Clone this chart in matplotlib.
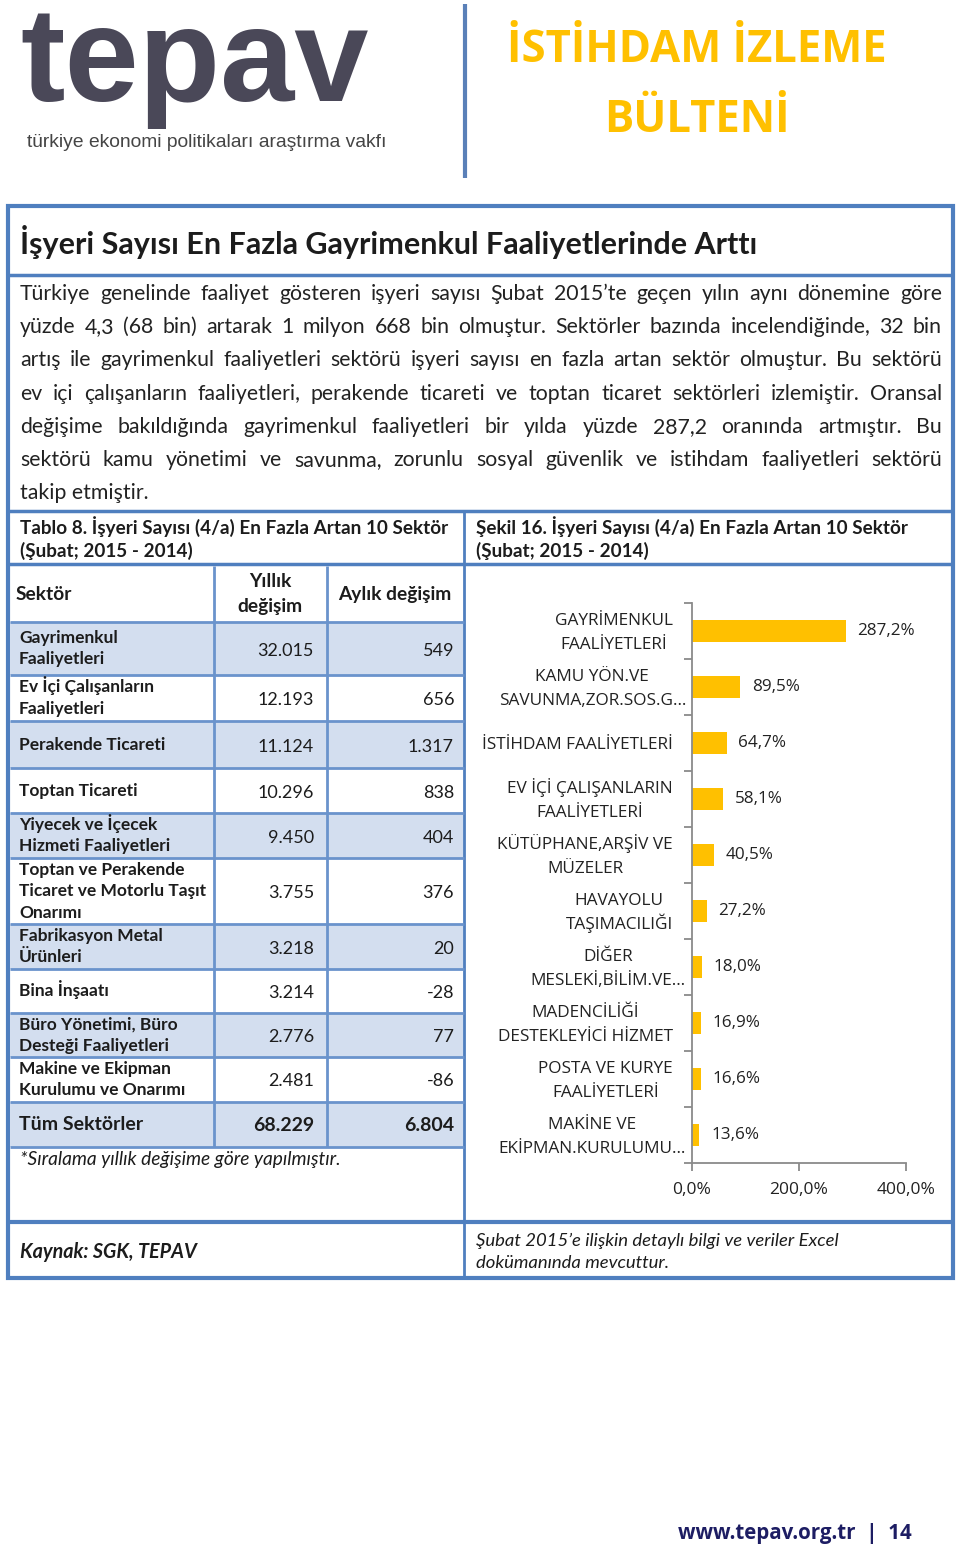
import matplotlib
matplotlib.use("Agg")
import matplotlib.pyplot as plt
from matplotlib.patches import Rectangle

# chart data (Şekil 16)
cats = ["GAYRİMENKUL\nFAALİYETLERİ", "KAMU YÖN.VE\nSAVUNMA,ZOR.SOS.G…", "İSTİHDAM FAALİYETLERİ",
        "EV İÇİ ÇALIŞANLARIN\nFAALİYETLERİ", "KÜTÜPHANE,ARŞİV VE\nMÜZELER", "HAVAYOLU\nTAŞIMACILIĞI",
        "DİĞER\nMESLEKİ,BİLİM.VE…", "MADENCİLİĞİ\nDESTEKLEYİCİ HİZMET", "POSTA VE KURYE\nFAALİYETLERİ",
        "MAKİNE VE\nEKİPMAN.KURULUMU…"]
pct = [287.2, 89.5, 64.7, 58.1, 40.5, 27.2, 18.0, 16.9, 16.6, 13.6]
xticks = [0, 200, 400]

# table data (Tablo 8)
sectors = ["Gayrimenkul\nFaaliyetleri", "Ev İçi Çalışanların\nFaaliyetleri", "Perakende Ticareti",
           "Toptan Ticareti", "Yiyecek ve İçecek\nHizmeti Faaliyetleri",
           "Toptan ve Perakende\nTicaret ve Motorlu Taşıt\nOnarımı", "Fabrikasyon Metal\nÜrünleri",
           "Bina İnşaatı", "Büro Yönetimi, Büro\nDesteği Faaliyetleri", "Makine ve Ekipman\nKurulumu ve Onarımı"]
annual = [32015, 12193, 11124, 10296, 9450, 3755, 3218, 3214, 2776, 2481]
monthly = [549, 656, 1317, 838, 404, 376, 20, -28, 77, -86]
total_annual = 68229
total_monthly = 6804

para = [
    "Türkiye genelinde faaliyet gösteren işyeri sayısı Şubat 2015’te geçen yılın aynı dönemine göre",
    "yüzde 4,3 (68 bin) artarak 1 milyon 668 bin olmuştur. Sektörler bazında incelendiğinde, 32 bin",
    "artış ile gayrimenkul faaliyetleri sektörü işyeri sayısı en fazla artan sektör olmuştur. Bu sektörü",
    "ev içi çalışanların faaliyetleri, perakende ticareti ve toptan ticaret sektörleri izlemiştir. Oransal",
    "değişime bakıldığında gayrimenkul faaliyetleri bir yılda yüzde 287,2 oranında artmıştır. Bu",
    "sektörü kamu yönetimi ve savunma, zorunlu sosyal güvenlik ve istihdam faaliyetleri sektörü",
    "takip etmiştir.",
]


def tr(v):
    return f"{v:,}".replace(",", ".")


BLUE = "#4f7fbf"
LINE = "#6a93cc"
SHADE = "#d3deef"
GOLD = "#ffc000"
INK = "#1c1c1c"

plt.rcParams["font.family"] = ["Lato", "DejaVu Sans"]
fig = plt.figure(figsize=(9.6, 15.49), dpi=100)
pg = fig.add_axes([0, 0, 1, 1])
pg.set_xlim(0, 960)
pg.set_ylim(1549, 0)
pg.axis("off")
r = fig.canvas.get_renderer()


def fit(x, y, s, width, **kw):
    t = pg.text(x, y, s, **kw)
    w = t.get_window_extent(r).width
    t.set_fontsize(t.get_fontsize() * width / w)
    return t


def justify(line, y, x0, x1, **kw):
    words = line.split()
    ts = [pg.text(0, y, w, va="center", **kw) for w in words]
    ws = [t.get_window_extent(r).width for t in ts]
    gap = (x1 - x0 - sum(ws)) / (len(words) - 1)
    x = x0
    for t, w in zip(ts, ws):
        t.set_x(x)
        x += w + gap


def hline(y, x0=8, x1=953, lw=2.5, c=BLUE):
    pg.plot([x0, x1], [y, y], color=c, lw=lw, solid_capstyle="butt")


def vline(x, y0, y1, lw=2.5, c=BLUE):
    pg.plot([x, x], [y0, y1], color=c, lw=lw, solid_capstyle="butt")


# header
pg.text(20, 101, "tepav", fontsize=96, fontweight="bold", color="#4a4858",
        family=["Liberation Sans"], va="baseline")
fit(27, 142, "türkiye ekonomi politikaları araştırma vakfı", 360, fontsize=11,
    color="#454545", family=["Liberation Sans"], va="center")
vline(465, 4, 178, lw=3, c="#5a80b8")
ban = fit(507, 62, "İSTİHDAM İZLEME", 380, fontsize=34, fontweight="bold", color=GOLD,
          family=["Open Sans"], va="baseline")
pg.text(697, 132, "BÜLTENİ", fontsize=ban.get_fontsize(), fontweight="bold",
        color=GOLD, family=["Open Sans"], va="baseline", ha="center")

# frame
pg.add_patch(Rectangle((8, 206), 945, 1072, fill=False, ec=BLUE, lw=3))
hline(275)
hline(511)
hline(564)
hline(1222, lw=3)
vline(464, 511, 1278, lw=2)

fit(20, 242, "İşyeri Sayısı En Fazla Gayrimenkul Faaliyetlerinde Arttı", 736, fontsize=19,
    fontweight="bold", color=INK, va="center")

for i, line in enumerate(para):
    y = 294 + i * 33.2
    if i < len(para) - 1:
        justify(line, y, 20, 942, fontsize=15.3, color="#222222")
    else:
        pg.text(20, y, line, fontsize=15.3, color="#222222", va="center")

for x0, title in [(20, "Tablo 8."), (476, "Şekil 16.")]:
    pg.text(x0, 527, title + " İşyeri Sayısı (4/a) En Fazla Artan 10 Sektör", fontsize=13.6,
            fontweight="bold", color=INK, va="center")
    pg.text(x0, 551, "(Şubat; 2015 - 2014)", fontsize=13.6, fontweight="bold", color=INK, va="center")

# table
edges = [566, 622, 675, 721, 768, 813, 858, 924, 969, 1013, 1057, 1102, 1147]
for i in range(len(edges) - 1):
    if i % 2 == 1:
        pg.add_patch(Rectangle((10, edges[i]), 454, edges[i + 1] - edges[i], fc=SHADE, ec="none"))
for y in edges[1:]:
    hline(y, 10, 464, lw=2, c=LINE)
for x in [214, 327]:
    vline(x, 566, 1147, lw=2, c=LINE)

hc = (edges[0] + edges[1]) / 2
pg.text(16, hc, "Sektör", fontsize=13.8, fontweight="bold", color=INK, va="center")
pg.text(270, hc, "Yıllık\ndeğişim", fontsize=13.8, fontweight="bold", color=INK, va="center",
        ha="center", multialignment="center", linespacing=1.55)
pg.text(395, hc, "Aylık değişim", fontsize=13.8, fontweight="bold", color=INK, va="center", ha="center")

for i, (s, a, m) in enumerate(zip(sectors, annual, monthly)):
    yc = (edges[i + 1] + edges[i + 2]) / 2
    lines = s.split("\n")
    for k, ln in enumerate(lines):
        pg.text(19, yc + (k - (len(lines) - 1) / 2) * 21.5 + 5, ln, fontsize=12.5, fontweight="bold",
                color=INK, va="baseline")
    pg.text(314, yc + 2, tr(a), fontsize=13, color=INK, va="center", ha="right")
    pg.text(454, yc + 2, tr(m), fontsize=13, color=INK, va="center", ha="right")

yc = (edges[-2] + edges[-1]) / 2
pg.text(19, yc, "Tüm Sektörler", fontsize=14, fontweight="bold", color=INK, va="center")
pg.text(314, yc + 1, tr(total_annual), fontsize=14, fontweight="bold", color=INK, va="center", ha="right")
pg.text(454, yc + 1, tr(total_monthly), fontsize=14, fontweight="bold", color=INK, va="center", ha="right")
pg.text(20, 1160, "*Sıralama yıllık değişime göre yapılmıştır.", fontsize=13.8, style="italic",
        color=INK, va="center")

# bottom notes
pg.text(20, 1252, "Kaynak: SGK, TEPAV", fontsize=14.2, style="italic", fontweight="bold",
        color=INK, va="center")
pg.text(476, 1252, "Şubat 2015’e ilişkin detaylı bilgi ve veriler Excel\ndokümanında mevcuttur.",
        fontsize=13.3, style="italic", color=INK, va="center", linespacing=1.5)

pg.text(678, 1533, "www.tepav.org.tr  |  14", fontsize=14.8, fontweight="bold",
        color="#1d1d63", family=["Open Sans"], va="center")

# bar chart
ax = fig.add_axes([692 / 960, 1 - 1163 / 1549, 214 / 960, 560 / 1549])
ypos = list(range(len(cats)))
ax.barh(ypos, pct, height=0.4, color=GOLD)
ax.set_xlim(xticks[0], xticks[-1])
ax.set_ylim(len(cats) - 0.5, -0.5)
for sp in ["top", "right"]:
    ax.spines[sp].set_visible(False)
for sp in ["left", "bottom"]:
    ax.spines[sp].set_color("#8a8a8a")
    ax.spines[sp].set_linewidth(1.3)
ax.set_yticks(ypos)
ax.set_yticklabels([])
ax.set_yticks([k - 0.5 for k in range(len(cats) + 1)], minor=True)
ax.tick_params(axis="y", which="major", length=0)
ax.tick_params(axis="y", which="minor", length=6, color="#8a8a8a", width=1.3)

# category labels, one text per line so accented capitals don't change the spacing;
# Excel leaves the truncated (…) labels closer to the axis
for yv, c in zip(ypos, cats):
    off = 6 if c.endswith("…") else 19
    lines = c.split("\n")
    ts = []
    for k, ln in enumerate(lines):
        dy = ((len(lines) - 1) / 2 - k) * 24 - 6
        ts.append(ax.annotate(ln, xy=(0, yv), xycoords=("axes fraction", "data"), xytext=(-off, dy),
                              textcoords="offset pixels", ha="center", va="baseline",
                              family=["Open Sans"], fontsize=12.4, color="#222222"))
    wmax = max(t.get_window_extent(r).width for t in ts)
    for t in ts:
        t.xyann = (-off - wmax / 2, t.xyann[1])

ax.set_xticks(xticks)
ax.set_xticklabels([f"{v:.1f}%".replace(".", ",") for v in xticks], family=["Open Sans"],
                   fontsize=12.5, color="#222222")
ax.tick_params(axis="x", length=6, color="#8a8a8a", width=1.3, pad=8)
for yv, v in zip(ypos, pct):
    ax.text(v + 22, yv, f"{v:.1f}%".replace(".", ","), va="center", ha="left", family=["Open Sans"],
            fontsize=12.3, color="#222222")

fig.savefig("out.png", dpi=100)
